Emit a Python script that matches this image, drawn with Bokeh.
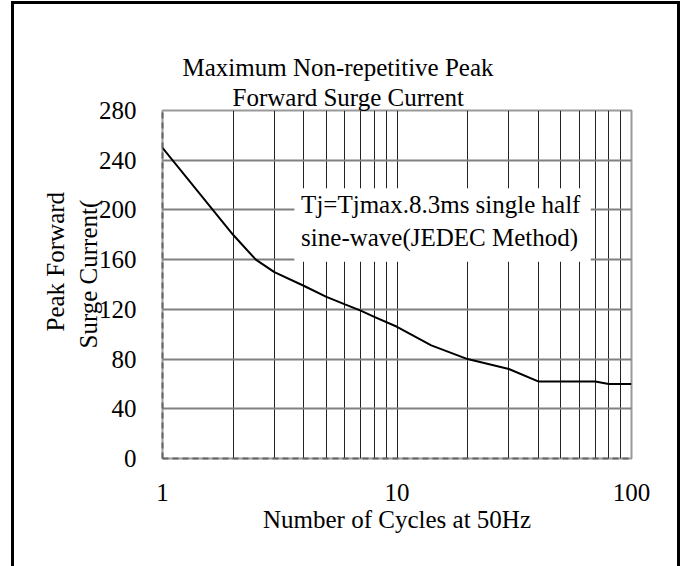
from bokeh.plotting import figure
from bokeh.models import FixedTicker, Label, BoxAnnotation, Title
from bokeh.embed import file_html
from bokeh.resources import INLINE

# ---- data ----
cycles = [1, 2, 2.5, 3, 4, 5, 6, 7, 8, 10, 14, 20, 30, 40, 70, 80, 100]
current = [250, 180, 160, 150, 139, 130, 124, 119, 114, 106, 91, 80, 72, 62, 62, 60, 60]
y_ticks = [0, 40, 80, 120, 160, 200, 240, 280]
x_ticks = [1, 10, 100]
x_minor = [2, 3, 4, 5, 6, 7, 8, 9, 10, 20, 30, 40, 50, 60, 70, 80, 90]
title_lines = ["Maximum Non-repetitive Peak", "Forward Surge Current"]
y_label_lines = ["Peak Forward", "Surge Current("]
x_label = "Number of Cycles at 50Hz"
note_lines = ["Tj=Tjmax.8.3ms single half", "sine-wave(JEDEC Method)"]

FONT = "Liberation Serif"
FS = "25px"

# host element: margin-left 11 + border 3 -> canvas starts at x=14, y=4
W, H = 663, 562
p = figure(width=W, height=H, x_axis_type="log", x_range=(1, 100), y_range=(0, 280),
           output_backend="svg", toolbar_location=None,
           min_border_left=148, min_border_right=52, min_border_top=106, min_border_bottom=111)
p.margin = (1, 0, 0, 11)
p.styles = {"border-left": "3px solid black", "border-top": "3px solid black",
            "border-right": "3px solid black", "box-sizing": "content-box"}
p.outline_line_color = "#9a9a9a"
p.outline_line_width = 2
p.background_fill_color = "white"
p.border_fill_color = "white"

# axes
p.xaxis.ticker = FixedTicker(ticks=x_ticks)
p.yaxis.ticker = FixedTicker(ticks=y_ticks)
for ax in (p.xaxis[0], p.yaxis[0]):
    ax.major_tick_line_color = None
    ax.minor_tick_line_color = None
    ax.axis_line_color = "#666666"
    ax.axis_line_width = 2
    ax.axis_line_dash = "6 4"
    ax.major_label_text_font = FONT
    ax.major_label_text_font_size = FS
    ax.major_label_text_color = "black"
p.xaxis.major_label_standoff = 19
p.yaxis.major_label_standoff = 20
p.xaxis.major_label_overrides = {1: "1", 10: "10", 100: "100"}
p.xaxis.axis_label = x_label
p.xaxis.axis_label_text_font = FONT
p.xaxis.axis_label_text_font_size = FS
p.xaxis.axis_label_text_font_style = "normal"
p.xaxis.axis_label_text_color = "black"
p.xaxis.axis_label_standoff = 2

# grids
p.xgrid.ticker = FixedTicker(ticks=x_minor)
p.xgrid.grid_line_color = "#222222"
p.xgrid.grid_line_width = 1
p.ygrid.ticker = FixedTicker(ticks=y_ticks[1:-1])
p.ygrid.grid_line_color = "#808080"
p.ygrid.grid_line_width = 2

# annotation box
p.add_layout(BoxAnnotation(left=3.65, right=67.0, bottom=158.3, top=217.5,
                           fill_color="white", fill_alpha=1, line_color=None))

p.line(cycles, current, line_color="black", line_width=2)

for t, y in zip(note_lines, [204, 177.5]):
    p.add_layout(Label(x=3.90, y=y, text=t, text_font=FONT, text_font_size=FS,
                       text_color="black", text_align="left", text_baseline="middle"))

def title(text, side, align, offset, standoff):
    p.add_layout(Title(text=text, align=align, offset=offset, standoff=standoff,
                       text_font=FONT, text_font_size=FS, text_font_style="normal",
                       text_color="black"), side)

title(title_lines[1], "above", "left", 70, 0)
title(title_lines[0], "above", "left", 20, 1)
title(y_label_lines[1], "left", "left", 110, -12)
title(y_label_lines[0], "left", "left", 127, 19)

open("out.html", "w").write(file_html(p, INLINE))
